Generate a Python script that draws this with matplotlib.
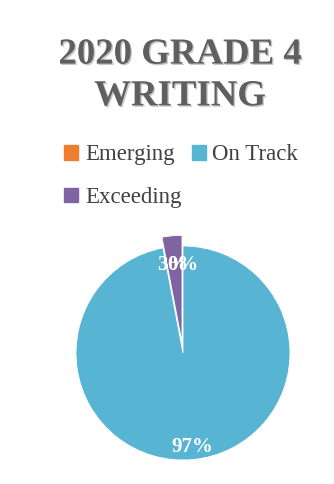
import matplotlib
matplotlib.use('Agg')
import matplotlib.pyplot as plt
import matplotlib.patches as mpatches
import matplotlib.patheffects as pe

# data
labels = ['Emerging', 'On Track', 'Exceeding']
values = [0, 97, 3]
colors = ['#ED7D31', '#58B4D3', '#8064A2']
explode = [0, 0, 0.1]

plt.rcParams['font.family'] = ['Liberation Serif', 'DejaVu Serif']

W, H = 334, 484
fig = plt.figure(figsize=(W / 100, H / 100), dpi=100)
fig.patch.set_facecolor('white')

# title
fig.text(180 / W, 1 - 75 / H, '2020 GRADE 4\nWRITING', ha='center', va='center',
         fontsize=26.5, fontweight='bold', color='#5F5F5F', linespacing=1.25,
         path_effects=[pe.withSimplePatchShadow(offset=(1, -1), shadow_rgbFace='#BBBBBB', alpha=0.8)])

# legend (order so rows read Emerging, On Track / Exceeding)
handles = [mpatches.Patch(color=c, label=l) for c, l in zip(colors, labels)]
order = [0, 2, 1]
fig.legend([handles[i] for i in order], [labels[i] for i in order],
           ncol=2, loc='upper left', bbox_to_anchor=(53 / W, 1 - 133 / H),
           frameon=False, fontsize=16.5, handlelength=0.6, handleheight=0.6,
           handletextpad=0.3, columnspacing=0.45, labelspacing=0.95,
           labelcolor='#404040', borderpad=0)

# pie
L = 1.2
r_px = 107
ax = fig.add_axes([(183 - L * r_px) / W, (H - 353 - L * r_px) / H,
                   2 * L * r_px / W, 2 * L * r_px / H])
wedges, texts, autotexts = ax.pie(
    values, colors=colors, explode=explode, startangle=90, counterclock=False,
    autopct='%1.0f%%', pctdistance=0.88,
    wedgeprops=dict(edgecolor='white', linewidth=0.6),
    textprops=dict(color='white', fontsize=15, fontweight='bold'))
# the two small labels at the top sit on one line, as in the original
for t in (autotexts[0], autotexts[2]):
    x, y = t.get_position()
    t.set_position((x, 0.82))
ax.set_xlim(-L, L)
ax.set_ylim(-L, L)
ax.set_aspect('equal')
ax.axis('off')

fig.savefig('out.png', dpi=100)
